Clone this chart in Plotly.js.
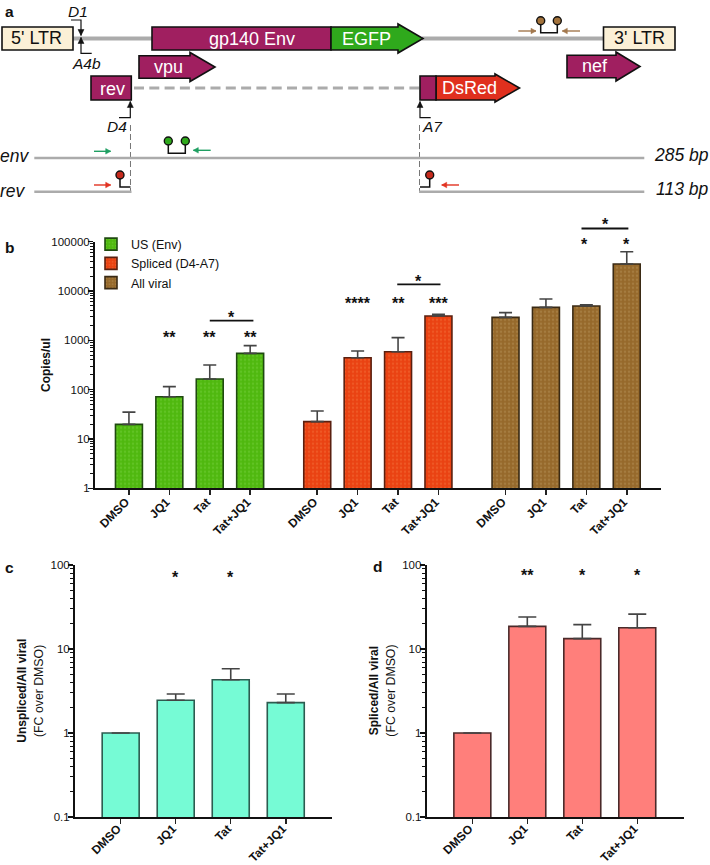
<!DOCTYPE html>
<html><head><meta charset="utf-8">
<script src="https://cdn.plot.ly/plotly-3.0.1.min.js"></script>
<style>html,body{margin:0;padding:0;background:#fff}</style>
</head><body><div id="chart" style="width:710px;height:865px"></div>
<script>
// ---- data ----
const treatments = ['DMSO','JQ1','Tat','Tat+JQ1'];
const usEnv      = [19.8, 72, 165, 545];
const usEnvErr   = [15.2, 43, 151, 235];
const spliced    = [22.5, 445, 589, 3112];
const splicedErr = [14.5, 163, 544, 253];
const allViral   = [2926, 4667, 4966, 35260];
const allViralErr= [714, 2213, 314, 27440];
const unsplicedFC    = [1, 2.45, 4.31, 2.30];
const unsplicedFCErr = [0, 0.46, 1.52, 0.61];
const splicedFC      = [1, 18.6, 13.3, 17.9];
const splicedFCErr   = [0, 5.4, 6.2, 8.1];
const seriesNames = ['US (Env)','Spliced (D4-A7)','All viral'];

// ---- page geometry helpers ----
const W=710,H=865, FONT='Liberation Sans, Arial, sans-serif';
const px=x=>x/W, py=y=>1-y/H;
const GRAY='#ababab', INK='#111', PURPLE='#a01f60';
const shapes=[], annotations=[];
const P=(pts,close)=>pts.map((p,i)=>(i?'L':'M')+px(p[0]).toFixed(5)+' '+py(p[1]).toFixed(5)).join(' ')+(close?' Z':'');
const poly=(pts,o={})=>shapes.push({type:'path',xref:'paper',yref:'paper',path:P(pts,o.fill!==undefined),
  fillcolor:o.fill||'rgba(0,0,0,0)',line:{color:o.color||INK,width:o.width===undefined?1.5:o.width,dash:o.dash||'solid'}});
const rect=(x0,y0,x1,y1,fill)=>poly([[x0,y0],[x1,y0],[x1,y1],[x0,y1]],{fill,width:1.6});
const block=(x0,x1,hs,cy,h,hh,fill)=>poly([[x0,cy-h],[hs,cy-h],[hs,cy-hh],[x1,cy],[hs,cy+hh],[hs,cy+h],[x0,cy+h]],{fill,width:1.6});
const circle=(x,y,r,fill)=>shapes.push({type:'circle',xref:'paper',yref:'paper',x0:px(x-r),x1:px(x+r),y0:py(y+r),y1:py(y-r),fillcolor:fill,line:{color:INK,width:1.4}});
const txt=(x,y,text,o={})=>annotations.push({xref:'paper',yref:'paper',x:px(x),y:py(y),text,showarrow:false,xanchor:'center',yanchor:'middle',textangle:o.angle||0,
  font:{family:FONT,size:o.size||18,color:o.color||'#111'}});
function primer(x0,x1,y,color){
  const d=x1>x0?1:-1;
  poly([[x0,y],[x1,y]],{color,width:1.4});
  poly([[x1,y],[x1-d*5,y-2.8],[x1-d*5,y+2.8]],{fill:color,color,width:0.5});
}
function spliceArrow(pts,dir){
  poly(pts,{width:1.2});
  const [x,y]=pts[pts.length-1];
  poly([[x,y],[x-3,y-dir*6],[x+3,y-dir*6]],{fill:INK,width:0.5});
}

// ---- panel a: construct schematic ----
poly([[73,38.5],[152,38.5]],{color:GRAY,width:4});
poly([[422,38.5],[603,38.5]],{color:GRAY,width:4});
rect(2,27,73,50,'#fbf0d6'); txt(36,38,"5' LTR");
rect(603.5,27,675,50,'#fbf0d6'); txt(639,38,"3' LTR");
rect(152,27,331,50,PURPLE); txt(252,39,'gp140 Env',{color:'#fff'});
block(331,423,398,38.5,11.5,14.5,'#2fa91c'); txt(366,39,'EGFP',{color:'#fff'});
block(139,215,190,67,11.3,14.5,PURPLE); txt(168,67,'vpu',{color:'#fff'});
block(567,640,616,66.5,11.3,14.5,PURPLE); txt(595,66.5,'nef',{color:'#fff'});
rect(91,76,131.3,100,PURPLE); txt(112,89,'rev',{color:'#fff'});
poly([[134,88],[420,88]],{color:GRAY,width:3,dash:'10px,5.3px'});
block(436,519.5,495,88,12,14,'#e0301e'); rect(420,76,436,100,PURPLE); txt(469,88.5,'DsRed',{color:'#fff'});

spliceArrow([[71,20],[81,20],[81,35.5]],1);
spliceArrow([[91.7,53.3],[81,53.3],[81,37.5]],-1);
spliceArrow([[119,117.7],[130.3,117.7],[130.3,101.5]],-1);
spliceArrow([[430.7,117.7],[420,117.7],[420,101.5]],-1);
const ital=s=>'<i>'+s+'</i>';
txt(78,11.5,ital('D1'),{size:15.5}); txt(86.7,63,ital('A4b'),{size:15.5});
txt(117,127,ital('D4'),{size:15.5}); txt(432,127,ital('A7'),{size:15.5});
poly([[130.5,125],[130.5,191]],{color:'#777',width:1,dash:'6px,3px'});
poly([[419.5,125],[419.5,191]],{color:'#777',width:1,dash:'6px,3px'});

poly([[34.3,158],[644.3,158]],{color:GRAY,width:2.6});
poly([[34.3,191.7],[131.5,191.7]],{color:GRAY,width:2.6});
poly([[419,191.7],[644.3,191.7]],{color:GRAY,width:2.6});
txt(14.5,155.5,ital('env'),{size:17.5}); txt(12.5,190.5,ital('rev'),{size:17.5});
txt(681.7,155,ital('285 bp'),{size:17.5}); txt(682,188.5,ital('113 bp'),{size:17.5});

const GRN='#1f9f62',RED='#e23322',BRN='#a3784e';
primer(94,110.7,151.3,GRN); primer(210.7,193.3,150.3,GRN);
primer(94,110.7,185,RED);   primer(459,441.7,185,RED);
primer(518.3,536,31,BRN);   primer(580,562.3,31,BRN);
poly([[168.3,141],[168.3,153.3],[185.3,153.3],[185.3,141]]); circle(168.3,141,4,'#2fa91c'); circle(185.3,141,4,'#2fa91c');
poly([[540.7,20.7],[540.7,32.7],[557.3,32.7],[557.3,20.7]]); circle(540.7,20.7,4,'#a3733c'); circle(557.3,20.7,4,'#a3733c');
poly([[120,175],[120,187],[130.5,187]]); circle(120,175,4,'#c62a1c');
poly([[429.7,175],[429.7,187],[420,187]]); circle(429.7,175,4,'#c62a1c');

// panel letters
[[9,11,'a'],[9,247,'b'],[9,567,'c'],[378,566,'d']].forEach(l=>txt(l[0],l[1],'<b>'+l[2]+'</b>',{size:15.5}));

// axis titles
txt(46,365,'<b>Copies/ul</b>',{size:12,angle:-90});
txt(21.7,691,'<b>Unspliced/All viral</b>',{size:12,angle:-90});
txt(39,691,'(FC over DMSO)',{size:12.3,angle:-90});
txt(374.3,691,'<b>Spliced/All viral</b>',{size:12,angle:-90});
txt(390.7,691,'(FC over DMSO)',{size:12.3,angle:-90});

// ---- panels b, c, d ----
const GROUP_STEP=4.66;
const groupX=g=>treatments.map((_,i)=>g*GROUP_STEP+i);
const allX=[...groupX(0),...groupX(1),...groupX(2)];
const barStyle=(color,line,err,capw,pat)=>({
  marker:Object.assign({color,line:{color:line,width:1.6}},pat?{pattern:{shape:'.',bgcolor:color,fgcolor:pat,fgopacity:0.55,size:4,solidity:0.3,fillmode:'replace'}}:{}),
  error_y:{type:'data',symmetric:false,array:err.map(v=>v||null),arrayminus:err.map(()=>0),color:'#444',thickness:1.6,width:capw}
});
const common={type:'bar',cliponaxis:false,hoverinfo:'skip'};
const traces=[
 Object.assign({},common,{name:seriesNames[0],x:groupX(0),y:usEnv,xaxis:'x',yaxis:'y',width:0.667},barStyle('#4fb80f','#1f4a10',usEnvErr,6.5,'#6fca35')),
 Object.assign({},common,{name:seriesNames[1],x:groupX(1),y:spliced,xaxis:'x',yaxis:'y',width:0.667},barStyle('#ea4212','#5a2010',splicedErr,6.5,'#f26a35')),
 Object.assign({},common,{name:seriesNames[2],x:groupX(2),y:allViral,xaxis:'x',yaxis:'y',width:0.667},barStyle('#96692b','#3a2a14',allViralErr,6.5,'#b08a50')),
 Object.assign({},common,{showlegend:false,x:treatments,y:unsplicedFC,xaxis:'x2',yaxis:'y2',width:0.672},barStyle('#76fbd5','#2c5c50',unsplicedFCErr,9)),
 Object.assign({},common,{showlegend:false,x:treatments,y:splicedFC,xaxis:'x3',yaxis:'y3',width:0.672},barStyle('#ff7f7b','#4a2a2a',splicedFCErr,9)),
];

const tickFont={family:FONT,size:11.5,color:'#111'};
const xBold={family:FONT,size:12,color:'#111',weight:700};
const xax=(domain,extra)=>Object.assign({domain,showgrid:false,zeroline:false,showline:true,linecolor:'#111',linewidth:2,
  ticks:'outside',ticklen:5,tickwidth:1.5,tickcolor:'#222',tickangle:-45,tickfont:xBold,ticklabelstandoff:-5,ticklabelshift:-3},extra);
const decades=(lo,hi)=>{const v=[];for(let e=lo;e<hi;e++)for(let m=2;m<=9;m++)v.push(m*Math.pow(10,e));return v;};
const yax=(domain,range,vals)=>({domain,type:'log',range,showgrid:false,zeroline:false,showline:true,linecolor:'#111',linewidth:2,
  ticks:'outside',ticklen:5,tickwidth:1.5,tickcolor:'#111',tickmode:'array',tickvals:vals,ticktext:vals.map(String),tickfont:tickFont,ticklabelstandoff:-4,
  minor:{ticks:'outside',ticklen:3,tickwidth:1,tickcolor:'#111',tickmode:'array',tickvals:decades(range[0],range[1]),showgrid:false}});

const star=(xref,x,y,s)=>annotations.push({xref,x,yref:'paper',y:py(y+3.5),text:'<b>'+s+'</b>',showarrow:false,xanchor:'center',yanchor:'middle',
  font:{family:FONT,size:16,color:'#111'}});
const bracket=(xref,x0,x1,y)=>shapes.push({type:'line',xref,yref:'paper',x0,x1,y0:py(y),y1:py(y),line:{color:'#111',width:1.8}});

[[1,334,'**'],[2,334,'**'],[3,334,'**'],[2.54,314,'*'],
 [5.66,300,'****'],[6.68,300,'**'],[7.66,300,'***'],[7.16,277.7,'*'],
 [11.28,241,'*'],[12.32,241,'*'],[11.8,221,'*']].forEach(s=>star('x',s[0],s[1],s[2]));
bracket('x',2,3.08,320.7); bracket('x',6.64,7.71,284.3); bracket('x',11.2,12.36,228.5);
[[1,574,'*'],[2,574,'*']].forEach(s=>star('x2',s[0],s[1],s[2]));
[[1,571.7,'**'],[2,571.7,'*'],[3,571.7,'*']].forEach(s=>star('x3',s[0],s[1],s[2]));

const layout={
  width:W,height:H,margin:{l:0,r:0,t:0,b:0},paper_bgcolor:'#fff',plot_bgcolor:'rgba(0,0,0,0)',
  bargap:0.33,barmode:'overlay',font:{family:FONT},
  showlegend:true,
  legend:{x:px(91),y:py(229.5),xanchor:'left',yanchor:'top',bgcolor:'rgba(0,0,0,0)',font:{family:FONT,size:12.5,color:'#111'},tracegroupgap:0,itemclick:false,itemdoubleclick:false},
  xaxis:xax([px(95),px(660.7)],{anchor:'y',range:[-0.84,13.16],tickmode:'array',tickvals:allX,ticktext:[...treatments,...treatments,...treatments]}),
  yaxis:Object.assign(yax([py(488.3),py(241.7)],[0,5],[1,10,100,1000,10000,100000]),{anchor:'x'}),
  xaxis2:xax([px(75),px(332)],{anchor:'y2',range:[-0.83,3.84],ticklabelstandoff:-7}),
  yaxis2:Object.assign(yax([py(817),py(565)],[-1,2],[0.1,1,10,100]),{anchor:'x2'}),
  xaxis3:xax([px(426.7),px(684)],{anchor:'y3',range:[-0.83,3.85],ticklabelstandoff:-7}),
  yaxis3:Object.assign(yax([py(817),py(565)],[-1,2],[0.1,1,10,100]),{anchor:'x3'}),
  shapes,annotations
};
Plotly.newPlot('chart',traces,layout,{displayModeBar:false,staticPlot:true});
</script></body></html>
